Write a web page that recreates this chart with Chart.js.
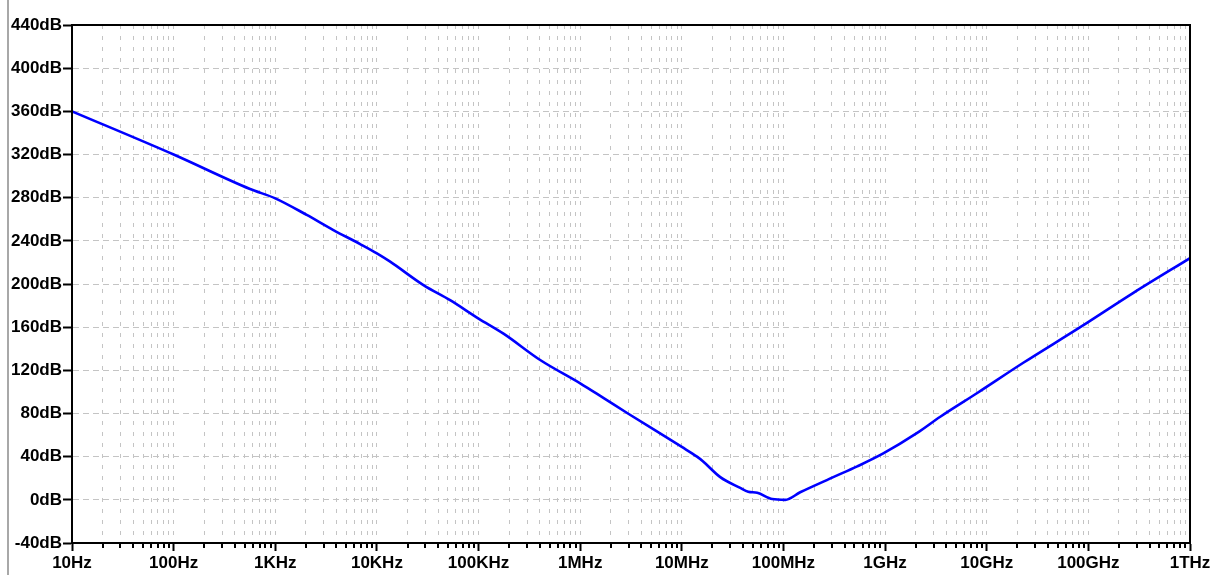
<!DOCTYPE html>
<html>
<head>
<meta charset="utf-8">
<script src="https://cdn.jsdelivr.net/npm/chart.js@4"></script>
<style>
  html, body { margin: 0; padding: 0; background: #fff; }
  #wrap { width: 1226px; height: 575px; position: relative; }
</style>
</head>
<body>
<div id="wrap"><canvas id="bode"></canvas></div>
<script>
// frequency (Hz) and magnitude (dB)
let freq = [10, 100, 565, 1000, 2040, 3730, 6840, 10000, 13500, 28700, 52500,
    100000, 176000, 404000, 1e6, 1.72e6, 2.95e6, 1e7, 1.41e7, 1.6e7,
    2.39e7, 3.76e7, 4.5e7, 5.52e7, 7.76e7, 1.04e8, 1.46e8, 3.09e8, 5.32e8, 9.6e8,
    2.07e9, 3.49e9, 8.07e9, 2.29e10, 8.32e10, 2.75e11, 1e12]
let mag_db = [360, 320, 288, 279.4, 264, 250, 237, 228.4, 220.7, 199, 185,
    168, 154, 129.6, 108, 94, 80, 49, 40, 36,
    21, 11, 7.5, 6.5, 0.7, 0, 7, 21, 31, 43,
    62, 77, 99, 127, 160, 191.6, 224]
let decade_labels = ["10Hz", "100Hz", "1KHz", "10KHz", "100KHz", "1MHz", "10MHz",
    "100MHz", "1GHz", "10GHz", "100GHz", "1THz"]
let y_min = -40
let y_max = 440
let y_step = 40

let points = []
for (let i = 0; i < freq.length; i++) {
    points.push({ x: freq[i], y: mag_db[i] })
}

function is_decade(v) {
    let l = Math.log10(v)
    return Math.abs(l - Math.round(l)) < 1e-9
}

// frame, window edge and short minor ticks
const frame_plugin = {
    id: "frame",
    beforeDraw(chart) {
        let ctx = chart.ctx
        ctx.save()
        ctx.fillStyle = "#a8a8a8"
        ctx.fillRect(7, 0, 2, chart.height)
        ctx.restore()
    },
    afterDraw(chart) {
        let ctx = chart.ctx
        let a = chart.chartArea
        let xs = chart.scales.x
        ctx.save()
        ctx.strokeStyle = "#000"
        ctx.lineWidth = 2
        ctx.strokeRect(a.left, a.top, a.right - a.left, a.bottom - a.top)
        ctx.beginPath()
        xs.ticks.forEach((t) => {
            if (!is_decade(t.value)) {
                let px = Math.round(xs.getPixelForValue(t.value))
                ctx.moveTo(px, a.bottom)
                ctx.lineTo(px, a.bottom + 5)
            }
        })
        ctx.stroke()
        ctx.restore()
    }
}

let bode = new Chart(document.getElementById("bode"), {
    type: "line",
    data: {
        datasets: [{
            data: points,
            borderColor: "#0000ff",
            borderWidth: 2.6,
            pointRadius: 0,
            cubicInterpolationMode: "monotone",
            fill: false
        }]
    },
    options: {
        responsive: true,
        maintainAspectRatio: false,
        animation: false,
        layout: { padding: { left: 0, right: 36, top: 25, bottom: 0 } },
        plugins: { legend: { display: false }, tooltip: { enabled: false } },
        scales: {
            x: {
                type: "logarithmic",
                min: freq[0],
                max: freq[freq.length - 1],
                afterBuildTicks(scale) {
                    let ticks = []
                    for (let d = 1; d <= 12; d++) {
                        for (let m = 1; m <= 9; m++) {
                            let v = m * Math.pow(10, d)
                            if (v <= 1e12) ticks.push({ value: v })
                        }
                    }
                    scale.ticks = ticks
                },
                afterFit(scale) { scale.height = 32 },
                ticks: {
                    autoSkip: false,
                    maxRotation: 0,
                    padding: 2,
                    color: "#000",
                    font: { family: "Liberation Sans", size: 17, weight: "bold" },
                    callback(v) {
                        if (!is_decade(v)) return ""
                        return decade_labels[Math.round(Math.log10(v)) - 1]
                    }
                },
                grid: {
                    color: "#c4c4c4",
                    lineWidth: 1,
                    tickLength: 8,
                    tickWidth: 2,
                    tickColor: (c) => (c.tick && is_decade(c.tick.value)) ? "#000" : "rgba(0,0,0,0)"
                },
                border: { display: true, color: "#000", width: 2, dash: [4, 7] }
            },
            y: {
                min: y_min,
                max: y_max,
                afterFit(scale) { scale.width = 72 },
                ticks: {
                    stepSize: y_step,
                    padding: 1,
                    color: "#000",
                    font: { family: "Liberation Sans", size: 17, weight: "bold" },
                    callback(v) { return v + "dB" }
                },
                grid: {
                    color: "#c4c4c4",
                    lineWidth: 1,
                    tickLength: 9,
                    tickWidth: 2,
                    tickColor: "#000"
                },
                border: { display: true, color: "#000", width: 2, dash: [6, 4] }
            }
        }
    },
    plugins: [frame_plugin]
})
</script>
</body>
</html>
